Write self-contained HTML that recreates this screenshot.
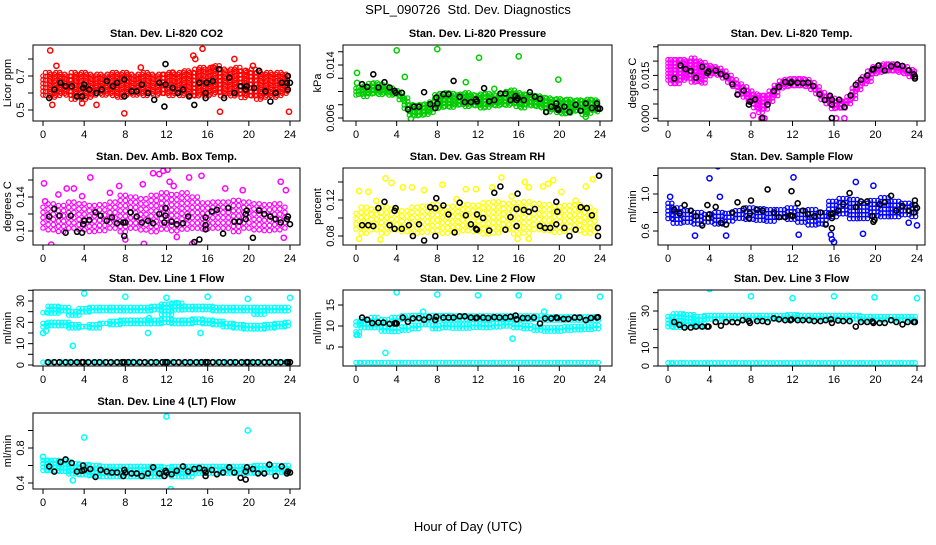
<!DOCTYPE html>
<html><head><meta charset="utf-8">
<style>
html,body{margin:0;padding:0;background:#fff;}
svg text{font-family:"Liberation Sans",Arial,sans-serif;}
</style></head>
<body>
<svg id="chart" xmlns="http://www.w3.org/2000/svg" width="936" height="540" viewBox="0 0 936 540">
<rect x="0" y="0" width="936" height="540" fill="#fff"/>
<text x="468" y="14" text-anchor="middle" font-size="13">SPL_090726&#160; Std. Dev. Diagnostics</text>
<text x="468" y="531" text-anchor="middle" font-size="13">Hour of Day (UTC)</text>
<g id="panels"></g>
</svg>
<script>
// ---------- data ----------
const xTicks = [0,4,8,12,16,20,24];

const co2Lo = [0.58,0.57,0.56,0.57,0.58,0.57,0.56,0.57,0.56,0.57,0.57,0.58,0.57,0.58,0.57,0.56,0.57,0.58,0.57,0.58,0.58,0.59,0.58,0.59,0.58,0.58,0.59,0.58,0.59,0.58,0.58,0.58,0.57,0.58,0.59,0.58,0.58,0.57,0.58,0.57,0.58,0.57,0.56,0.57,0.58,0.57,0.58,0.58,0.59];
const co2Hi = [0.70,0.72,0.71,0.72,0.71,0.70,0.72,0.71,0.72,0.71,0.70,0.71,0.70,0.71,0.72,0.71,0.72,0.71,0.70,0.71,0.72,0.71,0.70,0.71,0.71,0.72,0.71,0.72,0.73,0.72,0.74,0.75,0.74,0.75,0.76,0.74,0.73,0.74,0.75,0.73,0.72,0.74,0.72,0.71,0.72,0.71,0.72,0.71,0.70];
const co2Out = [[0.7,0.85],[1.3,0.76],[0.9,0.53],[3.8,0.54],[7.9,0.48],[9.5,0.75],[14.8,0.80],[15.5,0.86],[14.6,0.82],[17.2,0.49],[18.6,0.80],[19.7,0.73],[20.4,0.76],[21,0.73],[23.9,0.49],[16.5,0.75],[5.2,0.53],[12.6,0.72]];
const co2Blk = [[0.6,0.57],[1.1,0.62],[1.7,0.66],[2.2,0.64],[2.8,0.64],[3.3,0.58],[3.8,0.58],[3.9,0.63],[4.0,0.65],[4.5,0.62],[5.2,0.60],[5.7,0.62],[6.2,0.67],[6.8,0.64],[7.2,0.66],[7.9,0.68],[7.9,0.58],[8.6,0.61],[9.1,0.61],[9.6,0.65],[10.2,0.60],[10.8,0.56],[11.3,0.66],[11.8,0.52],[11.9,0.65],[11.9,0.77],[12.6,0.63],[13.1,0.60],[13.6,0.62],[14.2,0.58],[14.7,0.53],[15.2,0.66],[15.8,0.57],[15.8,0.60],[15.9,0.66],[16.5,0.67],[17.1,0.74],[17.6,0.57],[18.1,0.69],[18.6,0.60],[19.2,0.64],[19.7,0.62],[19.8,0.64],[20.5,0.63],[21.0,0.73],[21.6,0.61],[22.1,0.55],[22.6,0.60],[23.2,0.66],[23.7,0.66],[23.8,0.70],[23.8,0.62],[24,0.66]];

const presLo = [0.0093,0.0092,0.0092,0.0094,0.0095,0.0094,0.0094,0.0093,0.0091,0.0085,0.0072,0.0063,0.0062,0.0064,0.0065,0.0068,0.0071,0.0073,0.0075,0.0075,0.0076,0.0077,0.0076,0.0075,0.0076,0.0074,0.0076,0.0077,0.0075,0.0076,0.0078,0.0077,0.0076,0.0074,0.0077,0.0075,0.0073,0.0071,0.0069,0.0068,0.0067,0.0066,0.0067,0.0066,0.0067,0.0065,0.0066,0.0068,0.0068];
const presHi = [0.0105,0.0106,0.0108,0.0112,0.0113,0.0111,0.0108,0.0105,0.0101,0.0098,0.0090,0.0080,0.0079,0.0080,0.0081,0.0084,0.0095,0.0097,0.0098,0.0097,0.0095,0.0096,0.0098,0.0095,0.0094,0.0096,0.0097,0.0095,0.0094,0.0096,0.0100,0.0102,0.0098,0.0096,0.0095,0.0094,0.0093,0.0091,0.0090,0.0088,0.0089,0.0087,0.0088,0.0086,0.0087,0.0086,0.0088,0.0087,0.0085];
const presOut = [[0.1,0.0128],[0.1,0.0113],[4.0,0.0162],[4.8,0.0122],[8.0,0.0164],[10.8,0.0114],[12.1,0.0151],[13.6,0.0104],[16,0.0153],[19.9,0.0118],[24,0.0175],[22.6,0.0062],[5.4,0.0059]];
const presBlk = [[0.6,0.0111],[1.1,0.0107],[1.7,0.0126],[2.2,0.0106],[2.8,0.0114],[3.3,0.0106],[3.8,0.0101],[3.9,0.0098],[4.5,0.0098],[5.1,0.0073],[5.7,0.0077],[6.2,0.0077],[6.7,0.0099],[7.3,0.0081],[7.8,0.0075],[7.9,0.0091],[8.0,0.0082],[8.6,0.0096],[9.1,0.0096],[9.6,0.0116],[10.2,0.0092],[10.7,0.0084],[11.3,0.0084],[11.8,0.0088],[11.9,0.0085],[12.6,0.0105],[13.1,0.0085],[13.6,0.0087],[14.2,0.0097],[14.7,0.0097],[15.2,0.0087],[15.7,0.0093],[15.8,0.0087],[15.9,0.0090],[16.5,0.0087],[17.1,0.0099],[17.6,0.0092],[18.1,0.0089],[18.7,0.0069],[19.2,0.0077],[19.7,0.0082],[19.8,0.0074],[19.9,0.0072],[20.5,0.0077],[21.0,0.0069],[21.6,0.0080],[22.1,0.0071],[22.6,0.0082],[23.2,0.0075],[23.7,0.0082],[23.8,0.0074],[24,0.0074]];

const tempLo = [0.013,0.012,0.012,0.013,0.013,0.012,0.012,0.012,0.014,0.015,0.0145,0.0135,0.012,0.010,0.008,0.007,0.005,0.0035,0.002,0.003,0.005,0.0075,0.0095,0.0105,0.0110,0.0110,0.0110,0.0108,0.0095,0.008,0.0055,0.0045,0.003,0.0025,0.003,0.004,0.0065,0.009,0.011,0.0125,0.0145,0.0155,0.0155,0.016,0.016,0.0155,0.015,0.0145,0.0145];
const tempHi = [0.0205,0.0205,0.0205,0.0205,0.020,0.021,0.020,0.0195,0.0185,0.0180,0.0175,0.0165,0.015,0.0135,0.012,0.011,0.0095,0.0085,0.008,0.008,0.0095,0.0115,0.013,0.0135,0.0138,0.0138,0.0138,0.0135,0.0125,0.011,0.009,0.0075,0.007,0.006,0.006,0.0075,0.0105,0.0125,0.0145,0.0165,0.018,0.0185,0.019,0.019,0.019,0.0185,0.018,0.017,0.0165];
const tempOut = [[9,0],[9.3,0],[15.8,0],[16.2,0],[17,0],[8.2,0.001]];
const tempBlk = [[0.6,0.0139],[1.2,0.0185],[1.7,0.0172],[2.2,0.0165],[2.7,0.0142],[3.3,0.0180],[3.8,0.0158],[3.9,0.0164],[4.6,0.0167],[5.1,0.0155],[5.6,0.0147],[6.2,0.0119],[6.7,0.0083],[7.3,0.0097],[7.8,0.0048],[7.9,0.0058],[8.4,0.0066],[9.1,0.0001],[9.6,0.0048],[10.2,0.0095],[10.7,0.0110],[11.3,0.0127],[11.8,0.0123],[11.9,0.0127],[12.5,0.0124],[13.0,0.0123],[13.5,0.0125],[14.0,0.0113],[14.6,0.0084],[15.1,0.0064],[15.6,0.0079],[15.8,0.0048],[15.8,0.0065],[15.8,0.0001],[16.5,0.0065],[17.0,0.0039],[17.6,0.0080],[18.1,0.0117],[18.6,0.0135],[19.2,0.0150],[19.7,0.0170],[19.8,0.0172],[20.3,0.0185],[20.9,0.0167],[21.5,0.0182],[22.1,0.0188],[22.6,0.0183],[23.2,0.0168],[23.7,0.0154],[23.8,0.0146],[23.8,0.0139]];

const ambLo = [0.100,0.098,0.097,0.098,0.099,0.098,0.099,0.100,0.099,0.098,0.100,0.099,0.098,0.099,0.098,0.099,0.100,0.099,0.098,0.099,0.098,0.099,0.100,0.099,0.100];
const ambHi = [0.128,0.132,0.130,0.134,0.132,0.130,0.131,0.134,0.142,0.140,0.138,0.142,0.145,0.143,0.145,0.140,0.133,0.134,0.134,0.136,0.134,0.132,0.131,0.132,0.128];
const ambOut = [[0.1,0.156],[0.2,0.135],[0.8,0.084],[1.5,0.143],[2.3,0.15],[3.0,0.15],[3.8,0.141],[4.6,0.163],[6.5,0.145],[7.4,0.153],[9.7,0.155],[10.7,0.168],[11.3,0.167],[11.7,0.171],[12.1,0.172],[12.3,0.158],[12.7,0.153],[14.2,0.163],[14.5,0.085],[15.4,0.165],[17.7,0.15],[19.4,0.148],[23.1,0.158],[23.6,0.148],[23.4,0.092],[9.8,0.085],[8.0,0.09],[13.0,0.093]];
const ambBlk = [[0.6,0.117],[1.1,0.126],[1.6,0.118],[2.2,0.098],[2.7,0.118],[3.3,0.099],[3.8,0.098],[3.9,0.108],[4.0,0.112],[4.5,0.113],[5.1,0.122],[5.6,0.118],[6.2,0.112],[6.7,0.116],[7.2,0.109],[7.8,0.110],[7.9,0.094],[8.0,0.110],[8.5,0.122],[9.1,0.117],[9.6,0.110],[10.2,0.112],[10.7,0.109],[11.3,0.120],[11.8,0.110],[11.9,0.118],[11.9,0.127],[12.5,0.111],[13.0,0.108],[13.6,0.109],[14.1,0.117],[14.7,0.087],[15.2,0.090],[15.8,0.102],[15.8,0.107],[15.8,0.116],[16.4,0.123],[16.9,0.125],[17.5,0.097],[18.0,0.127],[18.6,0.111],[19.1,0.111],[19.7,0.114],[19.7,0.120],[19.8,0.124],[20.4,0.092],[21.0,0.124],[21.5,0.120],[22.1,0.117],[22.6,0.114],[23.1,0.110],[23.7,0.114],[23.8,0.117],[24,0.108]];

const rhLo = [0.082,0.082,0.083,0.082,0.082,0.083,0.082,0.083,0.082,0.083,0.082,0.082,0.083,0.082,0.082,0.083,0.082,0.083,0.082,0.082,0.083,0.082,0.082,0.083,0.082];
const rhHi = [0.105,0.112,0.110,0.112,0.110,0.108,0.112,0.113,0.115,0.112,0.113,0.115,0.114,0.117,0.118,0.116,0.117,0.118,0.116,0.115,0.113,0.114,0.115,0.112,0.108];
const rhOut = [[0.3,0.130],[1.2,0.129],[2.0,0.119],[2.4,0.076],[2.9,0.144],[3.5,0.139],[4.6,0.134],[5.5,0.134],[6.7,0.131],[8.5,0.137],[9.9,0.121],[10.8,0.132],[11.8,0.132],[13.4,0.134],[14.3,0.145],[15.3,0.124],[16.6,0.140],[17.0,0.134],[18.4,0.135],[18.9,0.138],[19.4,0.142],[20.2,0.129],[22.6,0.135],[23.3,0.143],[21.6,0.119],[0.3,0.077],[17,0.077],[15.9,0.077]];
const rhBlk = [[0.6,0.092],[1.2,0.092],[1.7,0.091],[2.2,0.111],[2.8,0.118],[3.3,0.092],[3.8,0.088],[3.8,0.108],[3.9,0.111],[4.5,0.088],[5.2,0.092],[5.6,0.080],[6.2,0.093],[6.7,0.075],[7.3,0.112],[7.8,0.080],[7.8,0.111],[7.9,0.122],[8.6,0.114],[9.1,0.104],[9.7,0.084],[10.2,0.117],[10.8,0.103],[11.3,0.093],[11.8,0.088],[11.9,0.087],[11.9,0.104],[12.5,0.100],[13.1,0.086],[13.6,0.128],[14.2,0.135],[14.7,0.087],[15.2,0.101],[15.8,0.091],[15.8,0.110],[15.9,0.127],[16.5,0.109],[17.0,0.107],[17.6,0.110],[18.1,0.091],[18.6,0.089],[19.1,0.089],[19.7,0.093],[19.7,0.118],[19.8,0.107],[20.5,0.089],[21.0,0.080],[21.6,0.087],[22.1,0.112],[22.7,0.111],[23.2,0.103],[23.8,0.080],[23.8,0.089],[23.9,0.147]];

const sfLo = [0.70,0.68,0.67,0.67,0.66,0.67,0.68,0.71,0.71,0.71,0.70,0.71,0.70,0.69,0.66,0.65,0.72,0.75,0.73,0.72,0.74,0.75,0.75,0.74,0.74];
const sfHi = [0.90,0.85,0.82,0.80,0.78,0.80,0.79,0.82,0.85,0.84,0.83,0.83,0.85,0.82,0.83,0.80,0.92,0.95,0.94,0.90,0.93,0.96,0.92,0.90,0.88];
const sfOut = [[4.0,1.17],[4.8,1.3],[5.0,0.97],[2.6,0.55],[5.6,0.55],[12.1,1.18],[12.6,0.56],[15.8,0.51],[16.0,0.48],[18.1,1.13],[18.8,0.57],[19.8,1.09],[23.2,0.69],[24,0.66],[15.7,0.56],[0.2,0.97]];
const sfBlk = [[0.6,0.83],[1.1,0.79],[1.6,0.88],[2.2,0.82],[2.7,0.76],[3.3,0.66],[3.8,0.88],[3.9,0.74],[4.0,0.78],[4.6,0.86],[5.1,0.69],[5.6,0.67],[6.2,0.80],[6.7,0.91],[7.3,0.84],[7.8,0.74],[7.9,0.79],[8.0,0.93],[8.6,0.83],[9.1,0.82],[9.6,1.05],[10.2,0.80],[10.7,0.75],[11.3,0.75],[11.8,0.77],[11.9,1.03],[12.0,0.76],[12.5,0.90],[13.0,0.82],[13.5,0.78],[14.1,0.76],[14.7,0.80],[15.2,0.67],[15.7,0.78],[15.8,0.74],[15.8,0.63],[15.9,0.79],[16.4,0.82],[16.9,0.89],[17.5,1.01],[18.1,0.86],[18.6,0.92],[19.2,0.92],[19.7,0.76],[19.8,0.70],[19.9,0.72],[20.4,0.89],[20.9,0.91],[21.5,0.98],[22.0,0.82],[22.6,0.87],[23.2,0.82],[23.7,0.80],[23.8,0.88],[23.8,0.93],[24,0.85]];

const l1ALo = [23,24,24,22.5,24.5,25,25,25,25,25,25,24.5,23.5,25,25,25,25,25,25,25,24,23,24,25,25];
const l1AHi = [24.5,27.5,27,25,26.5,27,27,27,27,27,27,27.5,28.5,29,27.5,27.5,27.5,27,27,27,27,27,27,27,27];
const l1BLo = [17.5,18,18,17,16.5,17,18,18.5,19,19,19,19,19,19,19,19,18.5,18,17.5,16.5,16.5,16.5,17,17.5,18];
const l1BHi = [19.5,20,20,19,18,19,19.5,20.5,21,21,21,21,21.5,21,21,21.5,21,20.5,19.5,19,18.5,18.5,19,19.5,20];
const l1CLo = [0.8,0.8,0.8,0.8,0.8,0.8,0.8,0.8,0.8,0.8,0.8,0.8,0.8,0.8,0.8,0.8,0.8,0.8,0.8,0.8,0.8,0.8,0.8,0.8,0.8];
const l1CHi = [1.8,1.8,1.8,1.8,1.8,1.8,1.8,1.8,1.8,1.8,1.8,1.8,1.8,1.8,1.8,1.8,1.8,1.8,1.8,1.8,1.8,1.8,1.8,1.8,1.8];
const l1Out = [[0,15],[0.3,16],[2.9,9],[4,33.5],[8,32],[12,31.5],[16,32],[19.9,31],[24,31.5],[10.2,15],[15.3,15],[13,29],[10.3,22]];
const l1Blk = [[0.5,1.3],[1.1,1.3],[1.6,1.3],[2.2,1.3],[2.7,1.3],[3.3,1.3],[3.8,1.3],[3.9,1.3],[4.4,1.3],[5,1.3],[5.5,1.3],[6.1,1.3],[6.6,1.3],[7.2,1.3],[7.7,1.3],[7.9,1.3],[8.3,1.3],[8.8,1.3],[9.4,1.3],[9.9,1.3],[10.5,1.3],[11,1.3],[11.6,1.3],[11.9,1.3],[12.1,1.3],[12.7,1.3],[13.2,1.3],[13.8,1.3],[14.3,1.3],[14.9,1.3],[15.4,1.3],[15.8,1.3],[16,1.3],[16.5,1.3],[17.1,1.3],[17.6,1.3],[18.2,1.3],[18.7,1.3],[19.3,1.3],[19.8,1.3],[19.9,1.3],[20.4,1.3],[20.9,1.3],[21.5,1.3],[22,1.3],[22.6,1.3],[23.1,1.3],[23.7,1.3],[23.8,1.3],[24,1.3]];

const l2ALo = [10,10.2,10.3,9.6,10.5,11,11,11,11.3,11.2,11,11,11,11,11,11,11,11,11,11,10.8,10.8,10.8,10.8,10.8];
const l2AHi = [11,11.5,12,11.5,12,12.4,12.5,12.4,12.5,12.5,12.4,12.4,12.4,12.4,12.4,12.4,12.4,12.4,12.4,12.2,12.2,12.2,12.2,12.2,12.2];
const l2BLo = [7.6,9.2,9.2,8.6,8.5,8.8,9.3,9.5,9.3,9.4,9.3,9.3,9.5,9.4,9.5,9.6,9.4,9.2,8.8,8.6,8.6,8.8,8.9,9,9.2];
const l2BHi = [8.6,10.4,10.4,9.6,9.5,9.8,10.2,10.3,10.2,10.4,10.3,10.3,10.5,10.4,10.6,10.8,10.4,10.2,9.8,9.6,9.6,9.8,9.9,10,10.2];
const l2CLo = [0.5,0.5,0.5,0.5,0.5,0.5,0.5,0.5,0.5,0.5,0.5,0.5,0.5,0.5,0.5,0.5,0.5,0.5,0.5,0.5,0.5,0.5,0.5,0.5,0.5];
const l2CHi = [1.3,1.3,1.3,1.3,1.3,1.3,1.3,1.3,1.3,1.3,1.3,1.3,1.3,1.3,1.3,1.3,1.3,1.3,1.3,1.3,1.3,1.3,1.3,1.3,1.3];
const l2Out = [[4,18],[8,17.5],[12,17.3],[16,17.3],[19.9,17],[24,17],[2.9,3.6],[15.4,7],[6.6,13.4],[18.5,13.4],[0.1,8]];
const l2Blk = [[0.6,12],[1.1,11.5],[1.6,10.7],[2.2,10.8],[2.7,10.8],[3.3,10.5],[3.8,10.6],[3.9,10.7],[4.0,10.6],[4.6,12],[5.1,11],[5.6,11.8],[6.2,11.9],[6.7,11.5],[7.2,12.1],[7.8,11.4],[7.9,12.2],[8.6,12],[9.1,12],[9.6,12],[10.2,12.3],[10.7,12.3],[11.3,12],[11.8,11.9],[11.9,12],[12.5,12],[13,11.9],[13.6,12.1],[14.1,12],[14.7,12],[15.2,12.2],[15.7,12.5],[15.8,11.6],[16.4,11.9],[16.9,11.9],[17.5,12],[18.1,10.6],[18.6,11.8],[19.2,11.8],[19.7,12],[19.8,11.9],[20.4,11.7],[20.9,11.7],[21.5,12],[22,12],[22.6,11.4],[23.1,11.9],[23.7,12],[23.8,12.1]];

const l3ALo = [20,21,21,21,24.5,24.5,24.5,24.5,24.5,24.7,25,25,25,25,25,25,25,25,24.5,24.5,24.5,24.5,25,25,25];
const l3AHi = [27,28.5,28,27,27.5,27.5,27.5,27.5,27.5,27.5,27.5,27.5,28,27.5,27.5,27.5,27.5,27.5,27.5,27,27,27,27,27,27];
const l3CLo = [1,1,1,1,1,1,1,1,1,1,1,1,1,1,1,1,1,1,1,1,1,1,1,1,1];
const l3CHi = [2.5,2.5,2.5,2.5,2.5,2.5,2.5,2.5,2.5,2.5,2.5,2.5,2.5,2.5,2.5,2.5,2.5,2.5,2.5,2.5,2.5,2.5,2.5,2.5,2.5];
const l3Out = [[4,42],[8,38],[12,37],[16,38],[19.9,37.5],[24,37]];
const l3Blk = [[0.6,24],[1.1,22.5],[1.6,21],[2.2,21],[2.7,21.5],[3.3,21.5],[3.8,21.5],[3.9,21.5],[4.6,24],[5.1,22],[5.6,24],[6.2,24],[6.7,23.8],[7.2,25],[7.8,24.5],[7.9,23.5],[8.6,24.5],[9.1,24.5],[9.6,24],[10.2,26],[10.7,25.5],[11.3,25],[11.8,25],[11.9,25.3],[12.5,25],[13,25],[13.6,25],[14.1,24.5],[14.7,24.5],[15.2,25],[15.7,25.5],[15.8,23.5],[16.4,24.8],[16.9,24.5],[17.5,24.5],[18.1,21.5],[18.6,24],[19.2,24],[19.7,24.2],[19.8,23.5],[20.4,23.5],[20.9,23.5],[21.5,25],[22,24],[22.6,22.7],[23.1,24],[23.7,24],[23.8,24]];

const l4Lo = [0.52,0.53,0.52,0.50,0.48,0.48,0.47,0.47,0.47,0.47,0.47,0.47,0.47,0.47,0.47,0.48,0.48,0.48,0.48,0.48,0.48,0.49,0.49,0.49,0.50];
const l4Hi = [0.66,0.66,0.65,0.62,0.61,0.60,0.59,0.59,0.59,0.59,0.59,0.59,0.58,0.59,0.59,0.59,0.59,0.59,0.59,0.59,0.59,0.60,0.60,0.60,0.60];
const l4Out = [[4,0.92],[12,1.16],[19.9,1.0],[12.4,0.33],[2.9,0.43],[0,0.7]];
const l4Blk = [[0.6,0.59],[1.1,0.53],[1.7,0.64],[2.2,0.67],[2.8,0.63],[3.3,0.53],[3.8,0.54],[3.9,0.60],[4.0,0.55],[4.6,0.56],[5.1,0.47],[5.6,0.55],[6.2,0.53],[6.7,0.52],[7.2,0.52],[7.8,0.48],[7.9,0.55],[8.0,0.52],[8.6,0.51],[9.1,0.51],[9.6,0.48],[10.2,0.51],[10.7,0.58],[11.3,0.51],[11.8,0.48],[11.9,0.54],[12.0,0.52],[12.5,0.50],[13.0,0.54],[13.6,0.59],[14.1,0.53],[14.7,0.56],[15.2,0.57],[15.7,0.55],[15.8,0.48],[15.8,0.52],[16.4,0.55],[16.9,0.50],[17.5,0.52],[18.1,0.58],[18.6,0.52],[19.2,0.46],[19.7,0.44],[19.7,0.53],[19.8,0.58],[20.4,0.56],[20.9,0.51],[21.5,0.51],[22.0,0.61],[22.6,0.48],[23.2,0.59],[23.7,0.51],[23.8,0.53],[24,0.52]];

// ---------- layout (pixel geometry, not data) ----------
const cols = [{l:33,r:300,x0:43,x24:290},{l:343,r:612,x0:356,x24:600},{l:658,r:925,x0:668,x24:917}];
const rows = [{t:45,b:121},{t:168,b:245},{t:290,b:366},{t:413,b:489}];

const panels = [
 {name:'co2',c:0,r:0,sp:3.8,title:'Stan. Dev. Li-820 CO2',ylab:'Licor ppm',color:'#ff0000',ticks:[0.5,0.6,0.7,0.8],labels:['0.5','','0.7',''],ref:[0.5,110,0.7,76],bands:[[co2Lo,co2Hi]],out:co2Out,blk:co2Blk},
 {name:'pressure',c:1,r:0,sp:3.4,title:'Stan. Dev. Li-820 Pressure',ylab:'kPa',color:'#00cc00',ticks:[0.006,0.008,0.010,0.012,0.014,0.016],labels:['0.006','','','','0.014',''],ref:[0.006,118,0.014,65],bands:[[presLo,presHi]],out:presOut,blk:presBlk},
 {name:'temp',c:2,r:0,sp:3.4,title:'Stan. Dev. Li-820 Temp.',ylab:'degrees C',color:'#ff00ff',ticks:[0,0.005,0.010,0.015,0.020,0.025],labels:['0.000','','','0.015','',''],ref:[0,118.3,0.015,75.4],bands:[[tempLo,tempHi]],out:tempOut,blk:tempBlk},
 {name:'amb-box-temp',c:0,r:1,sp:5.2,title:'Stan. Dev. Amb. Box Temp.',ylab:'degrees C',color:'#ff00ff',ticks:[0.10,0.12,0.14,0.16],labels:['0.10','','0.14',''],ref:[0.10,231,0.14,197],bands:[[ambLo,ambHi]],out:ambOut,blk:ambBlk},
 {name:'gas-rh',c:1,r:1,sp:5.2,title:'Stan. Dev. Gas Stream RH',ylab:'percent',color:'#ffff00',ticks:[0.08,0.10,0.12,0.14],labels:['0.08','','0.12',''],ref:[0.08,236,0.12,200],bands:[[rhLo,rhHi]],out:rhOut,blk:rhBlk},
 {name:'sample-flow',c:2,r:1,sp:3.8,title:'Stan. Dev. Sample Flow',ylab:'ml/min',color:'#0000ff',ticks:[0.6,0.8,1.0,1.2],labels:['0.6','','1.0',''],ref:[0.6,231,1.0,194],bands:[[sfLo,sfHi]],out:sfOut,blk:sfBlk},
 {name:'line1-flow',c:0,r:2,sp:3.4,title:'Stan. Dev. Line 1 Flow',ylab:'ml/min',color:'#00ffff',ticks:[0,5,10,15,20,25,30,35],labels:['0','','10','','20','','30',''],ref:[0,365,30,301],bands:[[l1ALo,l1AHi],[l1BLo,l1BHi],[l1CLo,l1CHi]],out:l1Out,blk:l1Blk},
 {name:'line2-flow',c:1,r:2,sp:3.4,title:'Stan. Dev. Line 2 Flow',ylab:'ml/min',color:'#00ffff',ticks:[5,10,15],labels:['5','10','15'],ref:[5,347,15,305],bands:[[l2ALo,l2AHi],[l2BLo,l2BHi],[l2CLo,l2CHi]],out:l2Out,blk:l2Blk},
 {name:'line3-flow',c:2,r:2,sp:3.4,title:'Stan. Dev. Line 3 Flow',ylab:'ml/min',color:'#00ffff',ticks:[0,10,20,30,40],labels:['0','10','','30',''],ref:[0,366,30,311],bands:[[l3ALo,l3AHi],[l3CLo,l3CHi]],out:l3Out,blk:l3Blk},
 {name:'line4-flow',c:0,r:3,sp:3.4,title:'Stan. Dev. Line 4 (LT) Flow',ylab:'ml/min',color:'#00ffff',ticks:[0.4,0.6,0.8,1.0],labels:['0.4','','0.8',''],ref:[0.4,483,0.8,448],bands:[[l4Lo,l4Hi]],out:l4Out,blk:l4Blk}
];

const NS='http://www.w3.org/2000/svg';
function mk(tag, attrs, parent){const e=document.createElementNS(NS,tag);for(const k in attrs)e.setAttribute(k,attrs[k]);parent.appendChild(e);return e;}
const root=document.getElementById('panels');

panels.forEach((p,pi)=>{
  const C=cols[p.c], R=rows[p.r];
  const xs=h=>C.x0+(C.x24-C.x0)*h/24;
  const ys=v=>p.ref[1]+(v-p.ref[0])*(p.ref[3]-p.ref[1])/(p.ref[2]-p.ref[0]);
  const g=mk('g',{},root);
  
  
  const clipId='clip'+pi;
  const cp=mk('clipPath',{id:clipId},g);
  mk('rect',{x:C.l,y:R.t,width:C.r-C.l,height:R.b-R.t},cp);
  const t=mk('text',{x:(C.l+C.r)/2,y:R.t-8,'text-anchor':'middle','font-size':'11','font-weight':'bold'},g);
  t.textContent=p.title;
  
  
  const yl=mk('text',{x:0,y:0,'text-anchor':'middle','font-size':'11',transform:`translate(${C.l-22},${(R.t+R.b)/2}) rotate(-90)`},g);
  yl.textContent=p.ylab;
  
  
  const pts=mk('g',{'clip-path':`url(#${clipId})`,fill:'none'},g);
  
  
  const sp=p.sp;
  p.bands.forEach(b=>{
    const lo=b[0], hi=b[1], n=lo.length, bw=24/(n-1);
    const band=mk('g',{stroke:p.color,'stroke-width':'1.2'},pts);
    
    
    for(let i=0;i<n;i++){
      const h=i*bw;
      const xa=xs(Math.max(0,h-bw/2)), xb=xs(Math.min(24,h+bw/2));
      const ya=ys(hi[i]), yb=ys(lo[i]);
      const top=Math.min(ya,yb), bot=Math.max(ya,yb);
      for(let x=xa;x<=xb;x+=sp){
        if(bot-top<3){mk('circle',{cx:x.toFixed(1),cy:((top+bot)/2).toFixed(1),r:2.2},band);}
        else for(let y=top;y<=bot;y+=sp){mk('circle',{cx:x.toFixed(1),cy:y.toFixed(1),r:2.2},band);}
      }
    }
  });
  const og=mk('g',{stroke:p.color,'stroke-width':'1.5'},pts);
  
  
  p.out.forEach(d=>{mk('circle',{cx:xs(d[0]).toFixed(1),cy:ys(d[1]).toFixed(1),r:2.6},og);});
  const bg=mk('g',{stroke:'#000','stroke-width':'1.6'},pts);
  
  
  p.blk.forEach(d=>{mk('circle',{cx:xs(d[0]).toFixed(1),cy:ys(d[1]).toFixed(1),r:2.5},bg);});
  const box=mk('rect',{x:C.l,y:R.t,width:C.r-C.l,height:R.b-R.t,fill:'none',stroke:'#000','stroke-width':'1'},g);
  
  
  const xa=mk('g',{},g);
  
  
  xTicks.forEach(v=>{
    const x=xs(v);
    mk('line',{x1:x,y1:R.b,x2:x,y2:R.b+5,stroke:'#000'},xa);
    const tx=mk('text',{x:x,y:R.b+17,'text-anchor':'middle','font-size':'11'},xa);
    tx.textContent=String(v);
  });
  const ya=mk('g',{},g);
  
  
  p.ticks.forEach((v,i)=>{
    const y=ys(v);
    if(y<R.t-1||y>R.b+1)return;
    mk('line',{x1:C.l-5,y1:y,x2:C.l,y2:y,stroke:'#000'},ya);
    if(p.labels[i]){
      const tl=mk('text',{x:0,y:0,'text-anchor':'middle','font-size':'11',transform:`translate(${C.l-9},${y}) rotate(-90)`},ya);
      tl.textContent=p.labels[i];
    }
  });
});
</script>
</body></html>
